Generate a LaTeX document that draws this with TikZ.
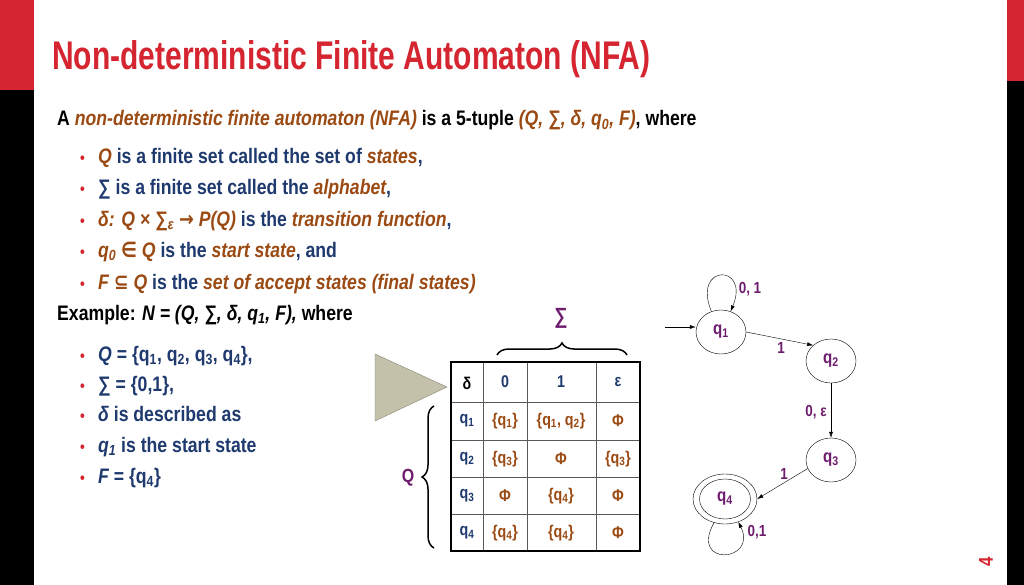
\documentclass[tikz,border=0pt]{standalone}
\usepackage{fontspec}
\setmainfont[FakeStretch=0.84]{Liberation Sans}
\newfontfamily\titlefont[FakeStretch=0.75]{Liberation Sans}
\newfontfamily\dvs[FakeStretch=0.84]{DejaVu Sans}
\usetikzlibrary{decorations.pathreplacing,arrows.meta,calc,shapes.geometric}
\definecolor{tred}{HTML}{D42530}
\definecolor{brn}{HTML}{9A4A12}
\definecolor{nvy}{HTML}{1F3A6E}
\definecolor{prp}{HTML}{6E1D6E}
\definecolor{tri}{HTML}{C3C1AA}
\newcommand{\subs}[1]{\textsubscript{#1}}
\newcommand{\sym}[1]{{\dvs #1}}
\begin{document}
\begin{tikzpicture}[x=1pt,y=-1pt,
  txt/.style={anchor=base west,inner sep=0pt,font=\bfseries\fontsize{21}{24}\selectfont},
  bul/.style={anchor=base west,inner sep=0pt,text=tred,font=\bfseries\fontsize{16}{20}\selectfont},
  cell/.style={font=\bfseries\fontsize{17}{20}\selectfont,inner sep=0pt},
  st/.style={draw,ellipse,minimum width=50pt,minimum height=44pt,inner sep=0pt,text=prp,font=\bfseries\fontsize{18}{20}\selectfont},
  lab/.style={text=prp,font=\bfseries\fontsize{16}{18}\selectfont,inner sep=1pt},
  arr/.style={-{Latex[length=6pt,width=4pt]},thin}]
\useasboundingbox (0,0) rectangle (1024,585);
\fill[white] (0,0) rectangle (1024,585);
\fill[tred] (0,0) rectangle (34,90);
\fill[black] (0,90) rectangle (34,585);
\fill[tred] (1007,0) rectangle (1024,81);
\fill[black] (1007,81) rectangle (1024,585);
\node[anchor=base west,inner sep=0pt,text=tred,font=\titlefont\bfseries\fontsize{40}{44}\selectfont] (title) at (52,70) {Non-deterministic Finite Automaton (NFA)};
\node[rotate=90,text=tred,font=\bfseries\fontsize{20}{22}\selectfont] (pg) at (986,562) {4};
% definition
\node[txt] (l0) at (57,126) {A \textcolor{brn}{\itshape non-deterministic finite automaton (NFA)} is a 5-tuple \textcolor{brn}{\itshape (Q, ∑, δ, q\subs{0}, F)}, where};
\foreach \yy/\nm in {164/b1,195/b2,226/b3,257/b4,289/b5,361/c1,391/c2,421/c3,452/c4,483/c5}
  \node[bul] (\nm) at (80,\yy) {•};
\node[txt,text=nvy] (t1) at (98,164) {\textcolor{brn}{\itshape Q} is a finite set called the set of \textcolor{brn}{\itshape states},};
\node[txt,text=nvy] (t2) at (98,195) {∑ is a finite set called the \textcolor{brn}{\itshape alphabet},};
\node[txt,text=nvy] (t3) at (98,226) {\textcolor{brn}{\itshape δ: Q × ∑\subs{ε} \sym{→} P(Q)} is the \textcolor{brn}{\itshape transition function},};
\node[txt,text=nvy] (t4) at (98,257) {\textcolor{brn}{\itshape q\subs{0} \sym{∈} Q} is the \textcolor{brn}{\itshape start state}, and};
\node[txt,text=nvy] (t5) at (98,289) {\textcolor{brn}{\itshape F \sym{⊆} Q} is the \textcolor{brn}{\itshape set of accept states (final states)}};
\node[txt] (ex) at (57,320) {Example: \itshape N = (Q, ∑, δ, q\subs{1}, F), \upshape where};
\node[txt,text=nvy] (s1) at (98,361) {\itshape Q\upshape{} = \{q\subs{1}, q\subs{2}, q\subs{3}, q\subs{4}\},};
\node[txt,text=nvy] (s2) at (98,391) {∑ = \{0,1\},};
\node[txt,text=nvy] (s3) at (98,421) {\itshape δ\upshape{} is described as};
\node[txt,text=nvy] (s4) at (98,452) {\itshape q\subs{1}\upshape{} is the start state};
\node[txt,text=nvy] (s5) at (98,483) {\itshape F\upshape{} = \{q\subs{4}\}};
% triangle
\fill[tri,draw=tri!70!black,thin] (375,354) -- (447,387) -- (375,421) -- cycle;
% table
\foreach \x in {483,527,596} \draw[gray!70!black,thin] (\x,362) -- (\x,551);
\foreach \y in {402,440,477,514} \draw[gray!70!black,thin] (451,\y) -- (640,\y);
\draw[line width=2pt] (451,362) rectangle (640,551);
\node[cell] (h0) at (467,383) {δ};
\node[cell,text=nvy] (h1) at (505,382) {0};
\node[cell,text=nvy] (h2) at (561,382) {1};
\node[cell,text=nvy] (h3) at (618,382) {ε};
\foreach \r/\yy/\a/\b/\c in {1/421/\{q\subs{1}\}/{\{q\subs{1}, q\subs{2}\}}/Φ, 2/459/\{q\subs{3}\}/Φ/\{q\subs{3}\}, 3/496/Φ/\{q\subs{4}\}/Φ, 4/533/\{q\subs{4}\}/\{q\subs{4}\}/Φ}{
  \node[cell,text=nvy] (r\r) at (467,\yy) {q\subs{\r}};
  \node[cell,text=brn] (a\r) at (505,\yy) {\a};
  \node[cell,text=brn] (b\r) at (561,\yy) {\b};
  \node[cell,text=brn] (c\r) at (618,\yy) {\c};
}
% braces
\draw[decorate,decoration={brace,amplitude=12pt},line width=1.5pt] (497,355) -- (627,355);
\node[text=prp,font=\bfseries\fontsize{22}{24}\selectfont] (sig) at (561,318) {∑};
\draw[decorate,decoration={brace,amplitude=12pt},line width=1.5pt] (434,548) -- (434,406);
\node[text=prp,font=\bfseries\fontsize{19}{22}\selectfont] (Qb) at (408,478) {Q};
% automaton
\node[st] (q1) at (721,332) {q\subs{1}};
\node[st] (q2) at (831,361) {q\subs{2}};
\node[st] (q3) at (831,460) {q\subs{3}};
\node[st,minimum width=64pt,minimum height=50pt] (q4) at (725,499) {};
\node[st,minimum width=51pt,minimum height=40pt] (q4i) at (725,499) {q\subs{4}};
\coordinate (st0) at (665,327);
\draw[arr] (st0) -- (q1.west |- st0);
\draw[arr] (q1.115) .. controls +(-20,-48) and +(20,-48) .. (q1.65);
\node[lab] (l11) at (750,289) {0, 1};
\draw[arr] (q1.east) -- (q2.north west);
\node[lab] (l12) at (781,348) {1};
\draw[arr] (q2.south) -- (q3.north);
\node[lab] (l23) at (816,412) {0, ε};
\draw[arr] (q3.200) -- (q4.east);
\node[lab] (l34) at (784,474) {1};
\draw[arr] (q4.245) .. controls +(-25,45) and +(20,40) .. (q4.300);
\node[lab] (l44) at (757,532) {0,1};
\end{tikzpicture}
\end{document}
